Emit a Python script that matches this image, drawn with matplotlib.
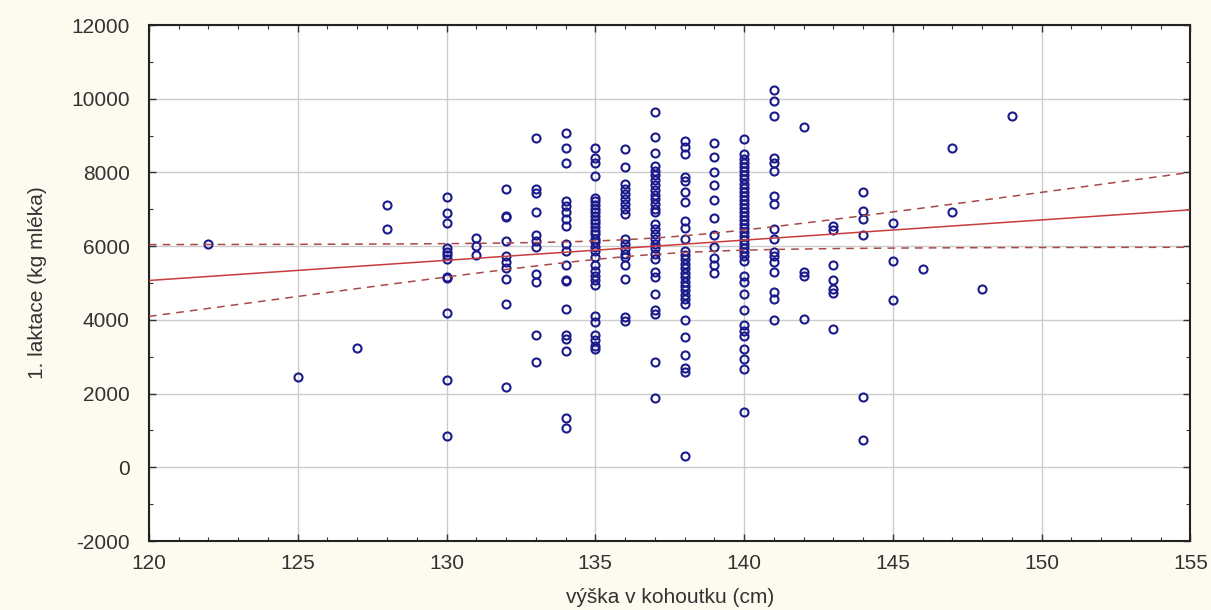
import numpy as np
import matplotlib
matplotlib.use("Agg")
import matplotlib.pyplot as plt
from matplotlib.ticker import MultipleLocator

plt.rcParams["axes.unicode_minus"] = False

# výška v kohoutku (cm) -> 1. laktace (kg mléka)
vyska = []
laktace = []

sloupce = {
    122: [6050],
    125: [2450],
    127: [3250],
    128: [7130, 6460],
    130: [7340, 6900, 6630, 5950, 5850, 5750, 5650, 5160, 5150, 4180, 2380, 850],
    131: [6220, 6010, 5750],
    132: [7540, 6820, 6780, 6130, 5720, 5560, 5400, 5110, 4420, 2190],
    133: [8930, 7550, 7430, 6920, 6290, 6150, 5970, 5250, 5040, 3580, 2860],
    134: [9080, 8660, 8270, 7230, 7100, 6920, 6740, 6560, 6060, 5880, 5500,
          5080, 5060, 4300, 3590, 3490, 3150, 1350, 1080],
    135: [8660, 8400, 8270, 7910, 7320, 7220, 7120, 7020, 6920, 6820, 6720,
          6620, 6520, 6420, 6320, 6200, 6110, 5990, 5860, 5710, 5480, 5340,
          5200, 5070, 4940, 4100, 3950, 3600, 3450, 3300, 3200],
    136: [8630, 8140, 7690, 7560, 7420, 7290, 7150, 7020, 6880, 6200, 6050,
          5930, 5800, 5700, 5480, 5120, 4090, 3960],
    137: [9650, 8950, 8520, 8180, 8050, 7920, 7790, 7660, 7530, 7400, 7270,
          7140, 7010, 6920, 6600, 6460, 6330, 6200, 6070, 5940, 5800, 5660,
          5300, 5170, 4710, 4260, 4170, 2860, 1870],
    138: [8850, 8700, 8500, 7880, 7780, 7460, 7190, 6690, 6500, 6200, 5880,
          5760, 5640, 5520, 5400, 5280, 5160, 5040, 4920, 4800, 4680, 4560,
          4440, 3990, 3540, 3060, 2700, 2580, 310],
    139: [8810, 8420, 8020, 7660, 7260, 6760, 6290, 5970, 5680, 5480, 5280],
    140: [8920, 8490, 8360, 8250, 8140, 8030, 7920, 7810, 7700, 7590, 7480,
          7370, 7260, 7150, 7040, 6930, 6820, 6710, 6600, 6490, 6380, 6270,
          6160, 6050, 5940, 5830, 5720, 5610, 5200, 5020, 4710, 4260, 3850,
          3700, 3560, 3220, 2950, 2660, 1510],
    141: [10250, 9950, 9530, 8400, 8270, 8040, 7370, 7140, 6470, 6200, 5840,
          5720, 5570, 5290, 4760, 4580, 3990],
    142: [9220, 5290, 5200, 4030],
    143: [6560, 6440, 5500, 5090, 4850, 4720, 3750],
    144: [7460, 6960, 6740, 6300, 1900, 750],
    145: [6620, 5590, 4550],
    146: [5380],
    147: [8660, 6940],
    148: [4830],
    149: [9530],
}
for v, ys in sloupce.items():
    vyska += [v] * len(ys)
    laktace += ys

x = np.array(vyska, dtype=float)
y = np.array(laktace, dtype=float)

# linear regression + 95% confidence band
b, a = np.polyfit(x, y, 1)
n = len(x)
resid = y - (a + b * x)
s = np.sqrt(np.sum(resid ** 2) / (n - 2))
sxx = np.sum((x - x.mean()) ** 2)
xx = np.linspace(120, 155, 200)
yy = a + b * xx
hw = 1.97 * s * np.sqrt(1.0 / n + (xx - x.mean()) ** 2 / sxx)

fig = plt.figure(figsize=(12.11, 6.10), dpi=100, facecolor="#fdfaf0")
ax = fig.add_axes([0.123, 0.113, 0.860, 0.846])
ax.set_facecolor("white")

ax.grid(True, which="major", color="#cccccc", linewidth=1.0, zorder=0)
ax.plot(x, y, linestyle="none", marker="o", markersize=5.8,
        markerfacecolor="none", markeredgecolor="#1a1a8c",
        markeredgewidth=1.5, zorder=3)
ax.plot(xx, yy, color="#c83c3c", linewidth=1.1, zorder=4)
ax.plot(xx, yy + hw, color="#a84848", linewidth=1.1, linestyle=(0, (5, 4)), zorder=4)
ax.plot(xx, yy - hw, color="#a84848", linewidth=1.1, linestyle=(0, (5, 4)), zorder=4)

ax.set_xlim(120, 155)
ax.set_ylim(-2000, 12000)
ax.xaxis.set_major_locator(MultipleLocator(5))
ax.xaxis.set_minor_locator(MultipleLocator(1))
ax.yaxis.set_major_locator(MultipleLocator(2000))
ax.yaxis.set_minor_locator(MultipleLocator(1000))

ax.tick_params(which="both", direction="in", top=True, right=True,
               colors="#333333", labelcolor="#333333")
ax.tick_params(which="major", length=5, width=1)
ax.tick_params(which="minor", length=3, width=0.8)
ax.tick_params(axis="x", pad=9, labelsize=15)
ax.tick_params(axis="y", pad=14, labelsize=15)
for lab in ax.get_xticklabels() + ax.get_yticklabels():
    lab.set_family(["Liberation Sans", "DejaVu Sans"])

for sp in ax.spines.values():
    sp.set_color("#222222")
    sp.set_linewidth(1.5)

lab_font = dict(family=["Liberation Sans Narrow", "Liberation Sans", "DejaVu Sans"],
                size=15, color="#333333")
ax.set_xlabel("výška v kohoutku (cm)", **lab_font)
ax.set_ylabel("1. laktace (kg mléka)", **lab_font)
ax.xaxis.set_label_coords(0.5, -0.090)
ax.yaxis.set_label_coords(-0.098, 0.5)

fig.savefig("out.png", dpi=100, facecolor=fig.get_facecolor())
